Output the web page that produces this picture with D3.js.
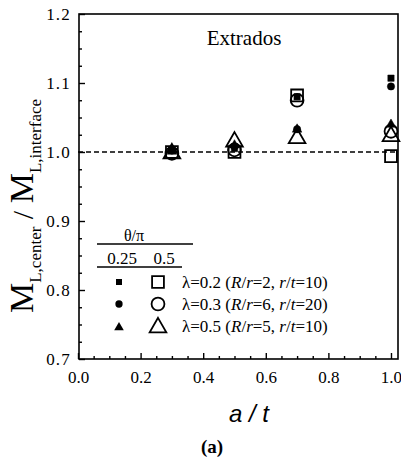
<!DOCTYPE html>
<html>
<head>
<meta charset="utf-8">
<script src="https://cdn.jsdelivr.net/npm/d3@7"></script>
<style>
  html, body { margin: 0; padding: 0; background: #fff; }
  svg { display: block; }
  text { fill: #000; }
</style>
</head>
<body>
<svg id="chart" width="401" height="461"></svg>
<script>
// crack depth ratio a/t
const aOverT = [0.3, 0.5, 0.7, 1.0];

// M_L,center / M_L,interface for each curvature case and crack angle θ/π
const lam02_theta025 = [1.003, 1.005, 1.080, 1.107];
const lam02_theta05  = [1.000, 1.000, 1.082, 0.994];
const lam03_theta025 = [1.002, 1.008, 1.033, 1.095];
const lam03_theta05  = [0.998, 1.003, 1.075, 1.030];
const lam05_theta025 = [1.003, 1.012, 1.035, 1.042];
const lam05_theta05  = [1.000, 1.017, 1.022, 1.025];

const xTicks = [0.0, 0.2, 0.4, 0.6, 0.8, 1.0];
const yTicks = [0.7, 0.8, 0.9, 1.0, 1.1, 1.2];
const thetaLabels = ["0.25", "0.5"];
const caseLabels = [
  ["λ=0.2 (", ["R", "/", "r"], "=2, ", ["r", "/", "t"], "=10)"],
  ["λ=0.3 (", ["R", "/", "r"], "=6, ", ["r", "/", "t"], "=20)"],
  ["λ=0.5 (", ["R", "/", "r"], "=5, ", ["r", "/", "t"], "=10)"]
];

const SERIF = "'Liberation Serif', 'Times New Roman', Times, serif";
const SANS = "'Liberation Sans', Arial, Helvetica, sans-serif";

const series = [
  { values: lam02_theta05,  shape: d3.symbolSquare,   filled: false, size: 140 },
  { values: lam03_theta05,  shape: d3.symbolCircle,   filled: false, size: 130 },
  { values: lam05_theta05,  shape: d3.symbolTriangle, filled: false, size: 120 },
  { values: lam02_theta025, shape: d3.symbolSquare,   filled: true,  size: 40 },
  { values: lam03_theta025, shape: d3.symbolCircle,   filled: true,  size: 42 },
  { values: lam05_theta025, shape: d3.symbolTriangle, filled: true,  size: 40 }
];

const svg = d3.select("#chart");
const x = d3.scaleLinear().domain([0, 1.0224]).range([78, 398]);
const y = d3.scaleLinear().domain([0.7, 1.2]).range([359, 14]);

const g = svg.append("g").style("font-family", SERIF);

// frame
g.append("rect")
  .attr("x", x(0) + 1).attr("y", y(1.2))
  .attr("width", x(1.0224) - x(0) - 1).attr("height", y(0.7) - y(1.2))
  .attr("fill", "none").attr("stroke", "#000").attr("stroke-width", 1.6);

// x axis: inward major and minor ticks
const minorX = d3.range(0.05, 1.01, 0.05).filter(v => Math.abs(v / 0.2 - Math.round(v / 0.2)) > 1e-6);
const xAxisG = g.append("g").attr("transform", `translate(0,${y(0.7)})`);
xAxisG.call(d3.axisBottom(x).tickValues(minorX).tickSize(-3).tickFormat(""));
xAxisG.call(g2 => g2.append("g").call(
  d3.axisBottom(x).tickValues(xTicks).tickSize(-6).tickPadding(12).tickFormat(d3.format(".1f"))));
xAxisG.selectAll(".domain").remove();
xAxisG.selectAll("line").attr("stroke", "#000").attr("stroke-width", 1.4);
xAxisG.selectAll("text").style("font-size", "17px").style("font-family", SERIF).attr("fill", "#000");

// y axis
const minorY = d3.range(0.725, 1.2, 0.025).filter(v => Math.abs(v / 0.1 - Math.round(v / 0.1)) > 1e-6);
const yAxisG = g.append("g").attr("transform", `translate(${x(0) + 1},0)`);
yAxisG.call(d3.axisLeft(y).tickValues(minorY).tickSize(-3).tickFormat(""));
yAxisG.call(g2 => g2.append("g").call(
  d3.axisLeft(y).tickValues(yTicks).tickSize(-6).tickPadding(8).tickFormat(d3.format(".1f"))));
yAxisG.selectAll(".domain").remove();
yAxisG.selectAll("line").attr("stroke", "#000").attr("stroke-width", 1.4);
yAxisG.selectAll("text").style("font-size", "17px").style("letter-spacing", "1.2px")
  .style("font-family", SERIF).attr("fill", "#000");

// reference line at unity
g.append("line")
  .attr("x1", x(0)).attr("x2", x(1.0224))
  .attr("y1", y(1.0)).attr("y2", y(1.0))
  .attr("stroke", "#000").attr("stroke-width", 1.3).attr("stroke-dasharray", "5,3");

// data markers
series.forEach(s => {
  const sym = d3.symbol().type(s.shape).size(s.size);
  g.append("g").selectAll("path")
    .data(s.values.map((v, i) => [aOverT[i], v]))
    .join("path")
    .attr("d", sym)
    .attr("transform", d => `translate(${x(d[0])},${y(d[1]) + (s.shape === d3.symbolTriangle ? 1.5 : 0)})`)
    .attr("fill", s.filled ? "#000" : "none")
    .attr("stroke", "#000")
    .attr("stroke-width", s.filled ? 0.5 : 1.8);
});

// panel title
g.append("text").attr("x", 244).attr("y", 45).attr("text-anchor", "middle")
  .style("font-size", "21px").text("Extrados");

// legend
const lg = g.append("g");
lg.append("text").attr("x", 134).attr("y", 241).attr("text-anchor", "middle")
  .style("font-size", "16px").text("θ/π");
lg.append("line").attr("x1", 97).attr("x2", 193).attr("y1", 244).attr("y2", 244)
  .attr("stroke", "#000").attr("stroke-width", 1.4);
lg.append("text").attr("x", 122).attr("y", 264).attr("text-anchor", "middle")
  .style("font-size", "17px").text(thetaLabels[0]);
lg.append("text").attr("x", 164).attr("y", 264).attr("text-anchor", "middle")
  .style("font-size", "17px").text(thetaLabels[1]);
lg.append("line").attr("x1", 97).attr("x2", 182).attr("y1", 267).attr("y2", 267)
  .attr("stroke", "#000").attr("stroke-width", 1.4);

const rowY = [282, 304, 326];
const legendShapes = [d3.symbolSquare, d3.symbolCircle, d3.symbolTriangle];
const filledSizes = [36, 42, 40];
const openSizes = [140, 130, 120];
rowY.forEach((ry, i) => {
  const tri = legendShapes[i] === d3.symbolTriangle ? 1.5 : 0;
  lg.append("path").attr("d", d3.symbol().type(legendShapes[i]).size(filledSizes[i]))
    .attr("transform", `translate(119,${ry + tri})`).attr("fill", "#000");
  lg.append("path").attr("d", d3.symbol().type(legendShapes[i]).size(openSizes[i]))
    .attr("transform", `translate(158,${ry + tri})`).attr("fill", "none")
    .attr("stroke", "#000").attr("stroke-width", 1.8);
  const t = lg.append("text").attr("x", 182).attr("y", ry + 6).style("font-size", "17px");
  caseLabels[i].forEach(part => {
    if (Array.isArray(part)) {
      t.append("tspan").style("font-style", "italic").text(part[0]);
      t.append("tspan").text(part[1]);
      t.append("tspan").style("font-style", "italic").text(part[2]);
    } else {
      t.append("tspan").text(part);
    }
  });
});

// y axis title
const yt = g.append("text")
  .attr("transform", "translate(33,206) rotate(-90)")
  .attr("text-anchor", "middle");
yt.append("tspan").style("font-size", "34px").text("M");
yt.append("tspan").style("font-size", "17px").attr("dy", 8).text("L,center");
yt.append("tspan").style("font-size", "30px").attr("dy", -8).text(" / ");
yt.append("tspan").style("font-size", "34px").text("M");
yt.append("tspan").style("font-size", "17px").attr("dy", 8).text("L,interface");

// x axis title
g.append("text").attr("x", 249).attr("y", 422).attr("text-anchor", "middle")
  .style("font-family", SANS).style("font-style", "italic")
  .style("font-size", "24px").text("a / t");

// panel label
g.append("text").attr("x", 212).attr("y", 453).attr("text-anchor", "middle")
  .style("font-weight", "bold").style("font-size", "19px").text("(a)");
</script>
</body>
</html>
